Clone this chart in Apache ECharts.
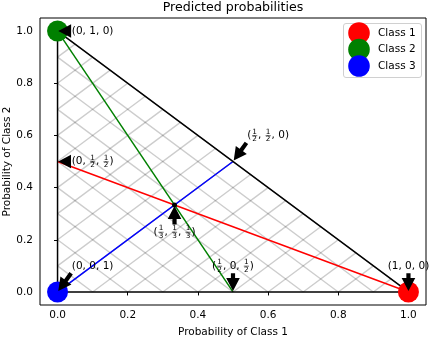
<!doctype html>
<html>
<head>
<meta charset="utf-8">
<title>Predicted probabilities</title>
<script src="https://cdn.jsdelivr.net/npm/echarts@6/dist/echarts.min.js"></script>
<style>
html,body{margin:0;padding:0;background:#fff;}
#chart{width:429px;height:340px;}
</style>
</head>
<body>
<div id="chart"></div>
<script>
// class corners of the simplex
var classNames = ['Class 1', 'Class 2', 'Class 3'];
var classColors = ['#ff0000', '#008000', '#0000ff'];
var classPoints = [[1, 0], [0, 1], [0, 0]];

// simplex outline and the three medians
var simplexPath = [[0, 0], [1, 0], [0, 1], [0, 0]];
var medianLines = [[[0, 0.5], [1, 0]], [[0, 1], [0.5, 0]], [[0, 0], [0.5, 0.5]]];
var centerPoint = [1 / 3, 1 / 3];

// hatch grid steps and axis ticks
var hatchSteps = [0.0, 0.1, 0.2, 0.3, 0.4, 0.5, 0.6, 0.7, 0.8, 0.9, 1.0];
var tickValues = [0, 0.2, 0.4, 0.6, 0.8, 1.0];

// annotations: point, text position, label tokens (array = fraction)
var annPoints = [[1 / 3, 1 / 3], [0.5, 0], [0, 0.5], [0.5, 0.5], [0, 0], [1, 0], [0, 1]];
var annTextPos = [[1 / 3, 0.23], [0.5, 0.1], [0.1, 0.5], [0.6, 0.6], [0.1, 0.1], [1, 0.1], [0.1, 1]];
var annLabels = [
	['(', ['1', '3'], ', ', ['1', '3'], ', ', ['1', '3'], ')'],
	['(', ['1', '2'], ', 0, ', ['1', '2'], ')'],
	['(0, ', ['1', '2'], ', ', ['1', '2'], ')'],
	['(', ['1', '2'], ', ', ['1', '2'], ', 0)'],
	['(0, 0, 1)'],
	['(1, 0, 0)'],
	['(0, 1, 0)']
];

var FONT = '"DejaVu Sans"';
var ctx = document.createElement('canvas').getContext('2d');
function textW(s, size) {
	ctx.font = size + 'px ' + FONT;
	return ctx.measureText(s).width;
}

// hatch segments built from the steps
var hatchSegs = [];
hatchSteps.forEach(function (x) {
	hatchSegs.push([0, x, x, 0]);
	hatchSegs.push([0, x, (1 - x) / 2, x + (1 - x) / 2]);
	hatchSegs.push([x, 0, x + (1 - x) / 2, (1 - x) / 2]);
});

function layoutLabel(tokens, cx, cy) {
	var big = 10.5, small = 7.3;
	var widths = tokens.map(function (t) {
		if (typeof t === 'string') return textW(t, big);
		return Math.max(textW(t[0], small), textW(t[1], small)) + 2.2;
	});
	var w = widths.reduce(function (a, b) { return a + b; }, 0);
	var x = cx - w / 2;
	var els = [];
	tokens.forEach(function (t, k) {
		if (typeof t === 'string') {
			els.push({type: 'text', x: x, y: cy, style: {text: t, font: big + 'px ' + FONT, fill: '#000', align: 'left', verticalAlign: 'middle'}});
		} else {
			var mx = x + widths[k] / 2;
			els.push({type: 'text', x: mx, y: cy - 3.4, style: {text: t[0], font: small + 'px ' + FONT, fill: '#000', align: 'center', verticalAlign: 'middle'}});
			els.push({type: 'text', x: mx, y: cy + 4.0, style: {text: t[1], font: small + 'px ' + FONT, fill: '#000', align: 'center', verticalAlign: 'middle'}});
			els.push({type: 'line', shape: {x1: x + 0.8, y1: cy + 0.3, x2: x + widths[k] - 0.8, y2: cy + 0.3}, style: {stroke: '#000', lineWidth: 0.6}});
		}
		x += widths[k];
	});
	return {els: els, w: w, h: 13};
}

function closest(arr, v) {
	var best = arr[0];
	arr.forEach(function (a) { if (Math.abs(a - v) < Math.abs(best - v)) best = a; });
	return best;
}

function arrowPoints(p, t, w, h) {
	var sx = closest([t[0] - w / 2, t[0], t[0] + w / 2], p[0]);
	var sy = closest([t[1] - h / 2, t[1], t[1] + h / 2], p[1]);
	var dx = p[0] - sx, dy = p[1] - sy, r = Math.sqrt(dx * dx + dy * dy);
	var ux = dx / r, uy = dy / r, nx = -uy, ny = ux;
	var shr = 0.05 * r;
	var s = [sx + ux * shr, sy + uy * shr], e = [p[0] - ux * shr, p[1] - uy * shr];
	var L = r - 2 * shr, hl = Math.min(13, L), hw = 6.8, tw = 2.1;
	var b = [e[0] - ux * hl, e[1] - uy * hl];
	return [
		[s[0] + nx * tw, s[1] + ny * tw], [b[0] + nx * tw, b[1] + ny * tw], [b[0] + nx * hw, b[1] + ny * hw],
		e,
		[b[0] - nx * hw, b[1] - ny * hw], [b[0] - nx * tw, b[1] - ny * tw], [s[0] - nx * tw, s[1] - ny * tw]
	];
}

var myChart = echarts.init(document.getElementById('chart'));

var axisCommon = {
	type: 'value', min: -0.05, max: 1.05,
	nameLocation: 'middle', nameMoveOverlap: false,
	nameTextStyle: {fontFamily: FONT, fontSize: 10.5, color: '#000'},
	axisLine: {show: false},
	splitLine: {show: false},
	axisTick: {show: true, customValues: tickValues, length: 3.5, lineStyle: {color: '#000', width: 1}},
	axisLabel: {customValues: tickValues, fontFamily: FONT, fontSize: 10.5, color: '#000',
		formatter: function (v) { return v.toFixed(1); }}
};

var series = [];
series.push({
	type: 'custom', z: 1, silent: true, clip: false,
	data: hatchSegs, encode: {x: [0, 2], y: [1, 3]},
	renderItem: function (params, api) {
		var a = api.coord([api.value(0), api.value(1)]);
		var b = api.coord([api.value(2), api.value(3)]);
		return {type: 'line', shape: {x1: a[0], y1: a[1], x2: b[0], y2: b[1]}, style: {stroke: 'rgba(0,0,0,0.2)', lineWidth: 1.4}};
	}
});
medianLines.forEach(function (seg, i) {
	series.push({type: 'line', z: 2, data: seg, showSymbol: false, clip: false, silent: true,
		lineStyle: {color: classColors[i], width: 1.5}});
});
series.push({type: 'line', z: 3, data: simplexPath, showSymbol: false, clip: false, silent: true,
	lineStyle: {color: '#000', width: 1.5}});
classPoints.forEach(function (pt, i) {
	series.push({type: 'scatter', z: 4, name: classNames[i], data: [pt], symbol: 'circle', symbolSize: 21,
		clip: false, silent: true, itemStyle: {color: classColors[i], opacity: 1}});
});
series.push({type: 'scatter', z: 5, data: [centerPoint], symbolSize: 5, clip: false, silent: true,
	itemStyle: {color: '#000', opacity: 1}});
series.push({
	type: 'custom', z: 6, silent: true, clip: false,
	data: annPoints.map(function (p, i) { return [p[0], p[1], annTextPos[i][0], annTextPos[i][1]]; }),
	encode: {x: [0, 2], y: [1, 3]},
	renderItem: function (params, api) {
		var i = params.dataIndex;
		var p = api.coord([api.value(0), api.value(1)]);
		var t = api.coord([api.value(2), api.value(3)]);
		var lay = layoutLabel(annLabels[i], t[0], t[1]);
		var children = lay.els.slice();
		children.push({type: 'polygon', shape: {points: arrowPoints(p, t, lay.w, lay.h)}, style: {fill: '#000'}});
		return {type: 'group', children: children};
	}
});

// legend drawn by hand so the big markers can overlap like the original
var legendEls = [{type: 'rect', left: 343, top: 23, shape: {width: 78, height: 54, r: 2.5},
	style: {fill: 'rgba(255,255,255,0.8)', stroke: '#d0d0d0', lineWidth: 1}, z: 100}];
classNames.forEach(function (n, i) {
	var cy = 33 + i * 16.5;
	legendEls.push({type: 'circle', shape: {cx: 359, cy: cy, r: 10.8}, style: {fill: classColors[i]}, z: 101});
	legendEls.push({type: 'text', x: 378, y: cy, style: {text: n, font: '10.5px ' + FONT, fill: '#000', verticalAlign: 'middle'}, z: 101});
});

var option = {
	animation: false,
	title: {text: 'Predicted probabilities', left: 233, top: 1, padding: 0, textAlign: 'center',
		textStyle: {fontFamily: FONT, fontSize: 12.6, fontWeight: 'normal', color: '#000'}},
	grid: {left: 40, right: 3, top: 18, bottom: 35, containLabel: false, outerBoundsMode: 'none',
		show: true, borderColor: '#000', borderWidth: 1, backgroundColor: 'transparent'},
	xAxis: Object.assign({}, axisCommon, {name: 'Probability of Class 1', nameGap: 22,
		axisLabel: Object.assign({}, axisCommon.axisLabel, {margin: 5})}),
	yAxis: Object.assign({}, axisCommon, {name: 'Probability of Class 2', nameGap: 27,
		axisLabel: Object.assign({}, axisCommon.axisLabel, {margin: 7})}),
	series: series,
	graphic: legendEls
};

myChart.setOption(option);
</script>
</body>
</html>
